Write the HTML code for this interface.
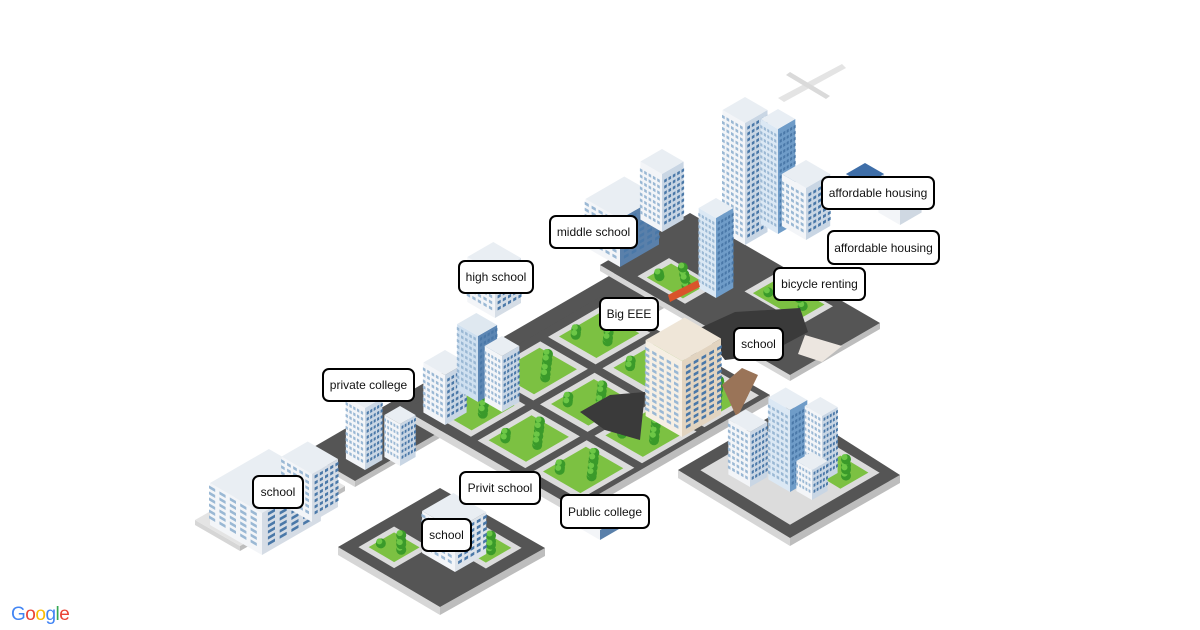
<!DOCTYPE html>
<html><head><meta charset="utf-8">
<style>
html,body{margin:0;padding:0;background:#fff;width:1200px;height:630px;overflow:hidden;font-family:"Liberation Sans",Arial,sans-serif}
#s{position:absolute;left:0;top:0}
.l{position:absolute;background:#fff;border:2px solid #000;border-radius:7px;font-size:12px;color:#111;display:flex;align-items:center;justify-content:center;box-sizing:border-box;white-space:nowrap}
.g{position:absolute;left:11px;top:604px;font-size:19px;font-family:"Liberation Sans",sans-serif;letter-spacing:-0.5px}
</style></head><body>
<svg id="s" width="1200" height="630" viewBox="0 0 1200 630"></svg>
<div class="l" style="left:549px;top:215px;width:89px;height:34px">middle school</div>
<div class="l" style="left:458px;top:260px;width:76px;height:34px">high school</div>
<div class="l" style="left:599px;top:297px;width:60px;height:34px">Big EEE</div>
<div class="l" style="left:821px;top:176px;width:114px;height:34px">affordable housing</div>
<div class="l" style="left:827px;top:230px;width:113px;height:35px">affordable housing</div>
<div class="l" style="left:773px;top:267px;width:93px;height:34px">bicycle renting</div>
<div class="l" style="left:733px;top:327px;width:51px;height:34px">school</div>
<div class="l" style="left:322px;top:368px;width:93px;height:34px">private college</div>
<div class="l" style="left:252px;top:475px;width:52px;height:34px">school</div>
<div class="l" style="left:459px;top:471px;width:82px;height:34px">Privit school</div>
<div class="l" style="left:560px;top:494px;width:90px;height:35px">Public college</div>
<div class="l" style="left:421px;top:518px;width:51px;height:34px">school</div>
<div class="g"><span style="color:#4285f4">G</span><span style="color:#ea4335">o</span><span style="color:#fbbc05">o</span><span style="color:#4285f4">g</span><span style="color:#34a853">l</span><span style="color:#ea4335">e</span></div>
<script>
var s=document.getElementById('s'),NS='http://www.w3.org/2000/svg';
function poly(pts,f){var p=document.createElementNS(NS,'polygon');p.setAttribute('points',pts.map(function(q){return q[0].toFixed(1)+','+q[1].toFixed(1)}).join(' '));p.setAttribute('fill',f);s.appendChild(p);}
function circ(x,y,r,f){var c=document.createElementNS(NS,'circle');c.setAttribute('cx',x);c.setAttribute('cy',y);c.setAttribute('r',r);c.setAttribute('fill',f);s.appendChild(c);}
var C=0.866,S=0.5;
function dia(L,T,R,B,f,th){if(th){poly([L,B,[B[0],B[1]+th],[L[0],L[1]+th]],'#d6d6d6');poly([B,R,[R[0],R[1]+th],[B[0],B[1]+th]],'#bdbdbd');}poly([L,T,R,B],f);}
function lerp(L,T,B,a,b){return [L[0]+a*(T[0]-L[0])+b*(B[0]-L[0]),L[1]+a*(T[1]-L[1])+b*(B[1]-L[1])];}
function cell(L,T,B,a0,a1,b0,b1,f){poly([lerp(L,T,B,a0,b0),lerp(L,T,B,a1,b0),lerp(L,T,B,a1,b1),lerp(L,T,B,a0,b1)],f);}
function box(x,y,w1,w2,h,cl,cr,ct,win){
 var a=[x,y],b=[x-w1*C,y-w1*S],c=[x+w2*C,y-w2*S];
 poly([a,b,[b[0],b[1]-h],[a[0],a[1]-h]],cl);
 poly([a,c,[c[0],c[1]-h],[a[0],a[1]-h]],cr);
 poly([[a[0],a[1]-h],[b[0],b[1]-h],[b[0]+w2*C,b[1]-h-w2*S],[c[0],c[1]-h]],ct);
 if(win){for(var z=6;z<h-4;z+=6){
  for(var t=0.1;t<0.9;t+=0.2){var px=x-w1*C*t,py=y-w1*S*t-z;poly([[px,py],[px-w1*C*0.12,py-w1*S*0.12],[px-w1*C*0.12,py-w1*S*0.12-3],[px,py-3]],'#9ab8d4');
   var qx=x+w2*C*t,qy=y-w2*S*t-z;poly([[qx,qy],[qx+w2*C*0.12,qy-w2*S*0.12],[qx+w2*C*0.12,qy-w2*S*0.12-3],[qx,qy-3]],'#4a78a8');}}}
}
function trees(L,T,B,a0,a1,b0,b1,n){for(var i=0;i<n;i++){var a=a0+(a1-a0)*((i*0.618+0.1)%1),b=b0+(b1-b0)*((i*0.382+0.2)%1);var p=lerp(L,T,B,a,b);circ(p[0],p[1]-5,5,'#3a9a2a');circ(p[0]-1.5,p[1]-7,3,'#6cc746');}}
// far-left platform
dia([195,520],[300,460],[345,486],[240,546],'#e4e4e4',5);
// upper-left road strip
dia([305,452],[640,258],[690,287],[355,481],'#555',6);
// main platform
dia([405,410],[600,297],[770,395],[575,508],'#555',8);
var L=[405,410],T=[600,297],B=[575,508];
for(var i=0;i<3;i++)for(var j=0;j<3;j++){cell(L,T,B,0.05+i*0.32,0.33+i*0.32,0.05+j*0.32,0.33+j*0.32,'#dcdcdc');cell(L,T,B,0.08+i*0.32,0.30+i*0.32,0.08+j*0.32,0.30+j*0.32,'#7cc142');trees(L,T,B,0.1+i*0.32,0.28+i*0.32,0.1+j*0.32,0.28+j*0.32,9);}
// upper block
dia([600,265],[690,213],[880,323],[790,375],'#555',6);
var L2=[600,265],T2=[690,213],B2=[790,375];
cell(L2,T2,B2,0.1,0.45,0.15,0.4,'#dcdcdc');cell(L2,T2,B2,0.14,0.41,0.18,0.37,'#7cc142');trees(L2,T2,B2,0.15,0.4,0.2,0.35,6);
cell(L2,T2,B2,0.55,0.9,0.5,0.8,'#dcdcdc');cell(L2,T2,B2,0.58,0.87,0.53,0.77,'#7cc142');trees(L2,T2,B2,0.6,0.85,0.55,0.75,5);
// bottom-left platform
dia([338,547],[440,488],[545,548],[440,607],'#555',8);
var L3=[338,547],T3=[440,488],B3=[440,607];
cell(L3,T3,B3,0.1,0.45,0.1,0.45,'#dcdcdc');cell(L3,T3,B3,0.15,0.4,0.15,0.4,'#7cc142');trees(L3,T3,B3,0.18,0.38,0.18,0.38,5);
cell(L3,T3,B3,0.55,0.9,0.55,0.9,'#dcdcdc');cell(L3,T3,B3,0.6,0.85,0.6,0.85,'#7cc142');trees(L3,T3,B3,0.62,0.82,0.62,0.82,5);
// bottom-right platform
dia([678,470],[790,405],[900,475],[790,538],'#555',8);
var L4=[678,470],T4=[790,405],B4=[790,538];
cell(L4,T4,B4,0.1,0.9,0.1,0.9,'#dcdcdc');cell(L4,T4,B4,0.6,0.85,0.6,0.85,'#7cc142');trees(L4,T4,B4,0.62,0.82,0.62,0.82,5);
// craters
poly([[580,412],[610,395],[645,392],[640,440],[605,430]],'#3a3a3a');
poly([[700,328],[735,312],[800,308],[808,332],[765,355],[725,360]],'#3a3a3a');
poly([[722,385],[742,368],[758,375],[737,418]],'#9a7458');
poly([[805,335],[842,346],[822,362],[798,354]],'#ece6e0');
// buildings
var W='#f3f5f8',BL='#c9d6e4',TP='#e9eef3';
box(262,555,60,68,42,W,'#d5dce5',TP,true);
box(312,522,35,30,48,W,'#d5dce5',TP,true);
box(365,470,22,20,62,W,BL,TP,true);
box(400,466,18,18,42,W,BL,TP,true);
box(445,425,25,25,50,W,BL,TP,true);
box(478,402,24,22,66,'#cfe0f0','#5c86b3','#dfe8f0',true);
box(502,412,20,20,56,W,BL,TP,true);
box(495,318,32,30,45,W,'#d5dde6',TP,true);
box(620,267,40,45,48,W,'#5a80aa',TP,true);
box(662,232,25,25,58,W,BL,TP,true);
box(745,245,26,26,122,W,BL,TP,true);
box(778,234,20,20,105,'#dbe8f4','#6f9cc8','#e8eef4',true);
box(716,298,20,20,80,'#dbe8f4','#6f9cc8','#e8eef4',true);
box(806,240,28,28,52,W,BL,TP,true);
box(865,205,22,22,20,W,'#cfd8e2','#3e6ea8',false);
box(900,225,25,25,20,W,'#cfd8e2','#3e6ea8',false);
box(682,437,42,45,76,'#f6efe4','#e2d4c0','#efe6d8',true);
box(750,487,25,20,55,W,BL,TP,true);
box(790,492,25,20,82,'#dbe8f4','#6f9cc8','#e8eef4',true);
box(822,482,20,18,66,W,BL,TP,true);
box(812,500,18,18,30,W,BL,TP,true);
box(455,572,38,36,42,W,'#dde3ea',TP,true);
box(600,540,25,25,10,W,'#5a80aa',TP,false);
// bus
poly([[668,295],[698,280],[700,287],[670,302]],'#d9542b');
// plane
poly([[778,98],[842,64],[846,68],[784,102]],'#e4e4e4');
poly([[790,72],[830,96],[826,99],[786,75]],'#dadada');
</script>
</body></html>
